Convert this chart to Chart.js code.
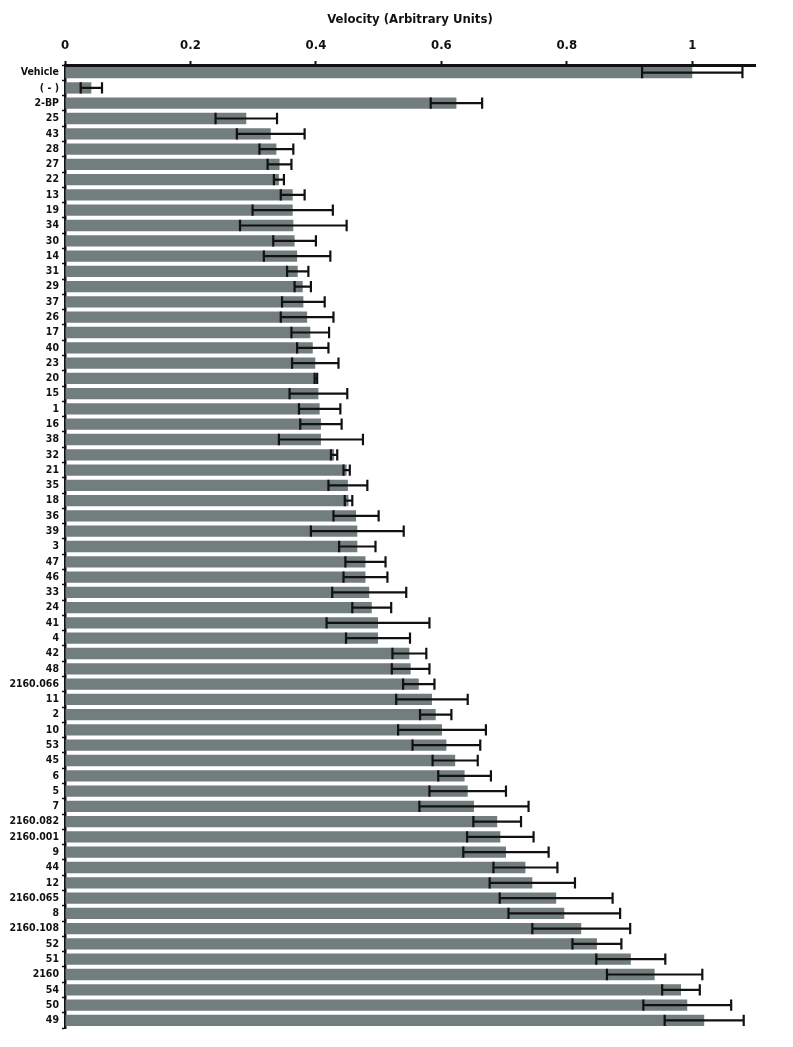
<!DOCTYPE html>
<html>
<head>
<meta charset="utf-8">
<title>Velocity</title>
<script src="https://cdn.jsdelivr.net/npm/chart.js@4.4.1/dist/chart.umd.min.js"></script>
<style>
  html, body { margin: 0; padding: 0; background: #fff; }
  #chart { display: block; }
</style>
</head>
<body>
<canvas id="chart" width="793" height="1047"></canvas>
<script>
// Compounds, top to bottom
const categories = ["Vehicle", "( - )", "2-BP", "25", "43", "28", "27", "22", "13", "19", "34", "30", "14",
  "31", "29", "37", "26", "17", "40", "23", "20", "15", "1", "16", "38", "32", "21", "35", "18", "36", "39",
  "3", "47", "46", "33", "24", "41", "4", "42", "48", "2160.066", "11", "2", "10", "53", "45", "6", "5", "7",
  "2160.082", "2160.001", "9", "44", "12", "2160.065", "8", "2160.108", "52", "51", "2160", "54", "50", "49"];

// Mean velocity (arbitrary units)
const velocity = [1.0, 0.042, 0.624, 0.289, 0.328, 0.337, 0.342, 0.341, 0.363, 0.363, 0.364, 0.366, 0.370,
  0.371, 0.379, 0.380, 0.386, 0.391, 0.395, 0.399, 0.400, 0.404, 0.406, 0.408, 0.408, 0.429, 0.449, 0.451,
  0.452, 0.464, 0.466, 0.466, 0.479, 0.479, 0.485, 0.489, 0.499, 0.499, 0.549, 0.551, 0.564, 0.585, 0.591,
  0.601, 0.608, 0.622, 0.637, 0.642, 0.652, 0.689, 0.694, 0.703, 0.734, 0.745, 0.783, 0.796, 0.823, 0.848,
  0.902, 0.940, 0.982, 0.992, 1.019];

// Error (half-width of the error bar)
const velocityErr = [0.080, 0.017, 0.041, 0.049, 0.054, 0.027, 0.019, 0.008, 0.019, 0.064, 0.085, 0.034, 0.053,
  0.017, 0.013, 0.034, 0.042, 0.030, 0.025, 0.037, 0.002, 0.046, 0.033, 0.033, 0.067, 0.005, 0.005, 0.031,
  0.006, 0.036, 0.074, 0.029, 0.032, 0.035, 0.059, 0.031, 0.082, 0.051, 0.027, 0.030, 0.025, 0.057, 0.025,
  0.070, 0.054, 0.036, 0.042, 0.061, 0.087, 0.038, 0.053, 0.068, 0.051, 0.068, 0.090, 0.089, 0.078, 0.039,
  0.055, 0.076, 0.030, 0.070, 0.063];

const xTicks = [0, 0.2, 0.4, 0.6, 0.8, 1];
const xMax = 1.1;

const FONT = "'DejaVu Sans Condensed', 'Liberation Sans', Arial, sans-serif";

// draws the black error bars on top of the bars
const errorBars = {
  id: "errorBars",
  afterDatasetsDraw(chart) {
    const ctx = chart.ctx;
    const xs = chart.scales.x;
    const meta = chart.getDatasetMeta(0);
    ctx.save();
    ctx.strokeStyle = "#111";
    ctx.lineWidth = 2.2;
    meta.data.forEach((bar, i) => {
      const lo = xs.getPixelForValue(velocity[i] - velocityErr[i]);
      const hi = xs.getPixelForValue(velocity[i] + velocityErr[i]);
      const half = bar.height / 2;
      ctx.beginPath();
      ctx.moveTo(lo, bar.y);
      ctx.lineTo(hi, bar.y);
      ctx.moveTo(lo, bar.y - half);
      ctx.lineTo(lo, bar.y + half);
      ctx.moveTo(hi, bar.y - half);
      ctx.lineTo(hi, bar.y + half);
      ctx.stroke();
    });
    ctx.restore();
  }
};

new Chart(document.getElementById("chart"), {
  type: "bar",
  data: {
    labels: categories,
    datasets: [{
      data: velocity,
      backgroundColor: "#727d7d",
      borderWidth: 0,
      barPercentage: 0.74,
      categoryPercentage: 1
    }]
  },
  options: {
    indexAxis: "y",
    responsive: false,
    animation: false,
    layout: { padding: { left: 0, right: 38, top: 0, bottom: 19 } },
    plugins: { legend: { display: false }, tooltip: { enabled: false } },
    scales: {
      x: {
        position: "top",
        min: 0,
        max: xMax,
        afterBuildTicks: (scale) => { scale.ticks = xTicks.map(v => ({ value: v })); },
        afterFit: (scale) => { scale.height = 65; },
        title: {
          display: true,
          text: "Velocity (Arbitrary Units)",
          color: "#111",
          font: { family: FONT, size: 13, weight: "bold" },
          padding: { top: 12, bottom: 0 }
        },
        ticks: {
          color: "#111",
          padding: 8,
          maxRotation: 0,
          font: { family: FONT, size: 13, weight: "bold" },
          callback: (v) => String(v)
        },
        grid: { drawOnChartArea: false, drawTicks: true, tickLength: 4, tickColor: "#111", tickWidth: 2 },
        border: { display: true, color: "#111", width: 3 }
      },
      y: {
        afterFit: (scale) => { scale.width = 65; },
        ticks: {
          color: "#111",
          padding: 3,
          autoSkip: false,
          font: { family: FONT, size: 10.5, weight: "bold" }
        },
        grid: { drawOnChartArea: false, drawTicks: true, tickLength: 3, tickColor: "#111", tickWidth: 1.5 },
        border: { display: true, color: "#111", width: 2.5 }
      }
    }
  },
  plugins: [errorBars]
});
</script>
</body>
</html>
